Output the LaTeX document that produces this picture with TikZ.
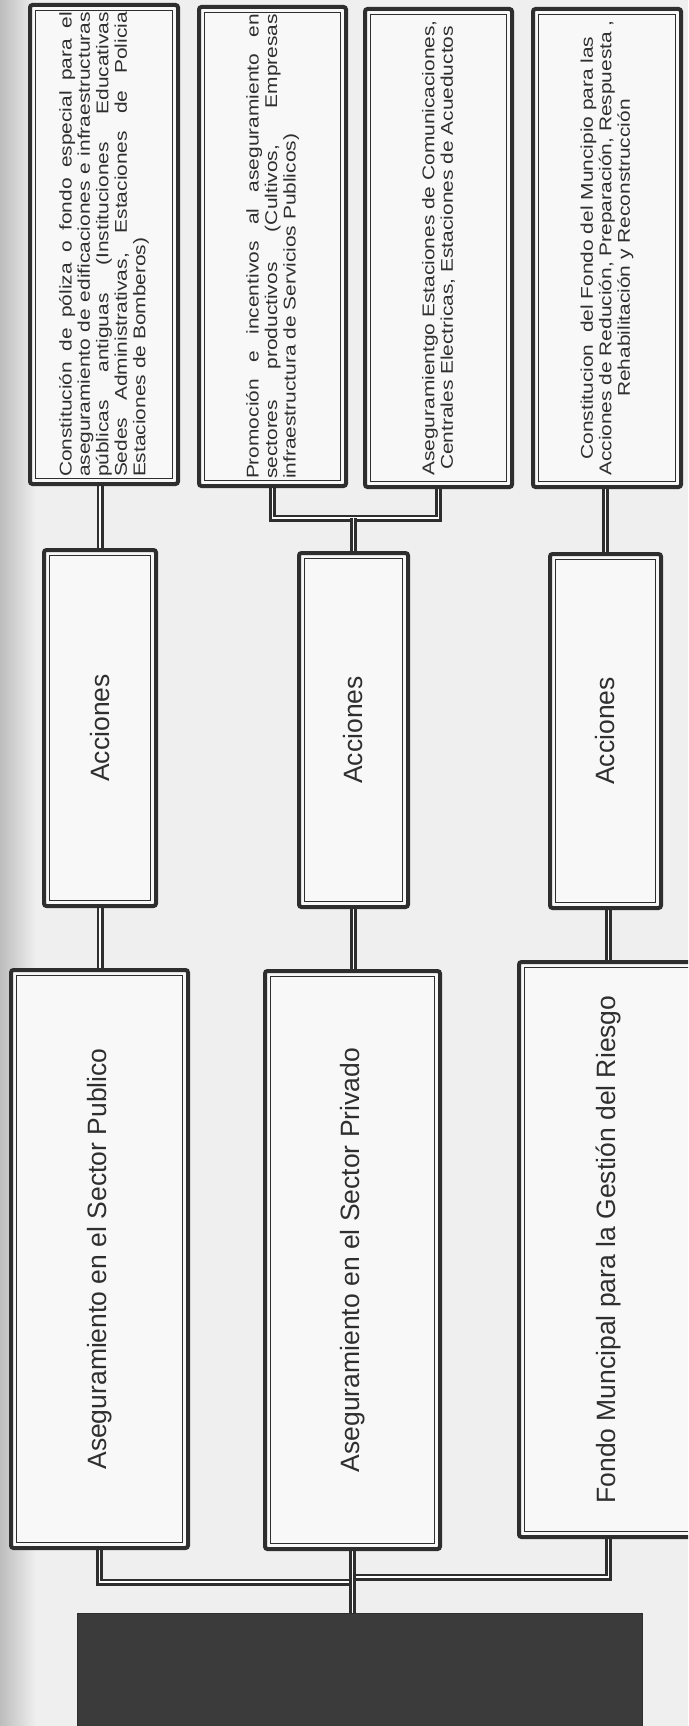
\documentclass[tikz,border=0pt]{standalone}
\usepackage{fontspec}
\setmainfont{Liberation Sans}
\usepackage{graphicx}
\usetikzlibrary{calc}
\definecolor{lc}{HTML}{2E2E2E}
\definecolor{tc}{HTML}{2F2F2F}
\definecolor{bgc}{HTML}{EFEFEF}
\definecolor{bfc}{HTML}{F8F8F8}
\definecolor{kc}{HTML}{3B3B3B}
\pgfdeclarelayer{bgfill}
\pgfdeclarelayer{wires}
\pgfsetlayers{bgfill,wires,main}
\tikzset{
  boxst/.style={draw=lc, line width=4pt, fill=bfc, rounded corners=2.5pt,
    inner sep=0pt, outer sep=0pt, text=tc},
  detail/.style={boxst, font=\fontsize{17}{18.5}\selectfont},
  mainbox/.style={boxst, font=\fontsize{26.5}{30}\selectfont},
  innerframe/.style={draw=lc, line width=1.3pt},
  conn/.style={draw=lc, line width=2.8pt, double=white, double distance=1.4pt},
  darkbox/.style={draw=lc, line width=1pt, fill=kc, inner sep=0pt, outer sep=0pt},
}
\newcommand\jtext[1]{\rotatebox{90}{\scalebox{1.23}[1]{\parbox{378pt}{\tolerance=10000\hbadness=10000\hyphenpenalty=10000 #1}}}}
\newcommand\ctext[1]{\rotatebox{90}{\scalebox{1.23}[1]{\parbox{378pt}{\centering #1}}}}
\newcommand\frameinside[1]{\draw[innerframe] ($(#1.south west)+(5.5,-5.5)$) rectangle ($(#1.north east)+(-5.5,5.5)$);}
\begin{document}
\begin{tikzpicture}[x=1pt, y=-1pt]
\useasboundingbox (0,0) rectangle (688,1726);
\clip (0,0) rectangle (688,1726);
\begin{pgfonlayer}{bgfill}
  \fill[bgc] (0,0) rectangle (688,1726);
  \fill[left color=gray!45!bgc, right color=bgc] (0,0) rectangle (36,1726);
\end{pgfonlayer}

% detail boxes
\node[detail, minimum width=148pt, minimum height=479pt] (D1) at (104,244.5)
  {\jtext{Constitución de póliza o fondo especial para el\linebreak aseguramiento de edificaciones e infraestructuras\linebreak públicas antiguas (Instituciones Educativas\linebreak Sedes Administrativas, Estaciones de Policia\linebreak Estaciones de Bomberos)}};
\frameinside{D1}
\node[detail, minimum width=147pt, minimum height=479pt] (D2) at (272.5,246.5)
  {\jtext{Promoción e incentivos al aseguramiento en\linebreak sectores productivos (Cultivos, Empresas\linebreak infraestructura de Servicios Publicos)}};
\frameinside{D2}
\node[detail, minimum width=147pt, minimum height=478pt] (D3) at (438.5,248)
  {\ctext{Aseguramientgo Estaciones de Comunicaciones,\\ Centrales Electricas, Estaciones de Acueductos}};
\frameinside{D3}
\node[detail, minimum width=148pt, minimum height=478pt] (D4) at (607,248)
  {\ctext{Constitucion\ \ del Fondo del Muncipio para las\\ Acciones de Redución, Preparación, Respuesta ,\\ Rehabilitación y Reconstrucción}};
\frameinside{D4}

% Acciones boxes
\node[mainbox, minimum width=112pt, minimum height=356pt] (A1) at (100,728) {\rotatebox{90}{Acciones}};
\frameinside{A1}
\node[mainbox, minimum width=109pt, minimum height=354pt] (A2) at (353.5,730) {\rotatebox{90}{Acciones}};
\frameinside{A2}
\node[mainbox, minimum width=111pt, minimum height=354pt] (A3) at (605.5,731) {\rotatebox{90}{Acciones}};
\frameinside{A3}

% sector boxes
\node[mainbox, minimum width=177pt, minimum height=578pt] (S1) at (99.5,1259) {\rotatebox{90}{Aseguramiento en el Sector Publico}};
\frameinside{S1}
\node[mainbox, minimum width=175pt, minimum height=578pt] (S2) at (352.5,1260) {\rotatebox{90}{Aseguramiento en el Sector Privado}};
\frameinside{S2}
\node[mainbox, minimum width=179pt, minimum height=575pt] (S3) at (608.5,1249.5) {\rotatebox{90}{Fondo Muncipal para la Gestión del Riesgo}};
\frameinside{S3}

% dark root box
\node[darkbox, minimum width=565pt, minimum height=126pt] (K) at (360,1676.5) {};

% connectors
\coordinate (J1) at (353.5,518);
\coordinate (J2L) at (352.5,1582);
\coordinate (J2R) at (352.5,1577);
\begin{pgfonlayer}{wires}
  \draw[conn] (A1.north |- D1.south) -- (A1.north);
  \draw[conn] (D2.south) |- (J1) -| (D3.south);
  \draw[conn] (A2.north |- J1) -- (A2.north);
  \draw[conn] (A3.north |- D4.south) -- (A3.north);
  \draw[conn] (A1.south) -- (A1.south |- S1.north);
  \draw[conn] (A2.south) -- (A2.south |- S2.north);
  \draw[conn] (S3.north |- A3.south) -- (S3.north);
  \draw[conn] (S1.south) |- (J2L);
  \draw[conn] (S3.south) |- (J2R);
  \draw[conn] (S2.south) -- (S2.south |- K.north);
\end{pgfonlayer}
\end{tikzpicture}
\end{document}
